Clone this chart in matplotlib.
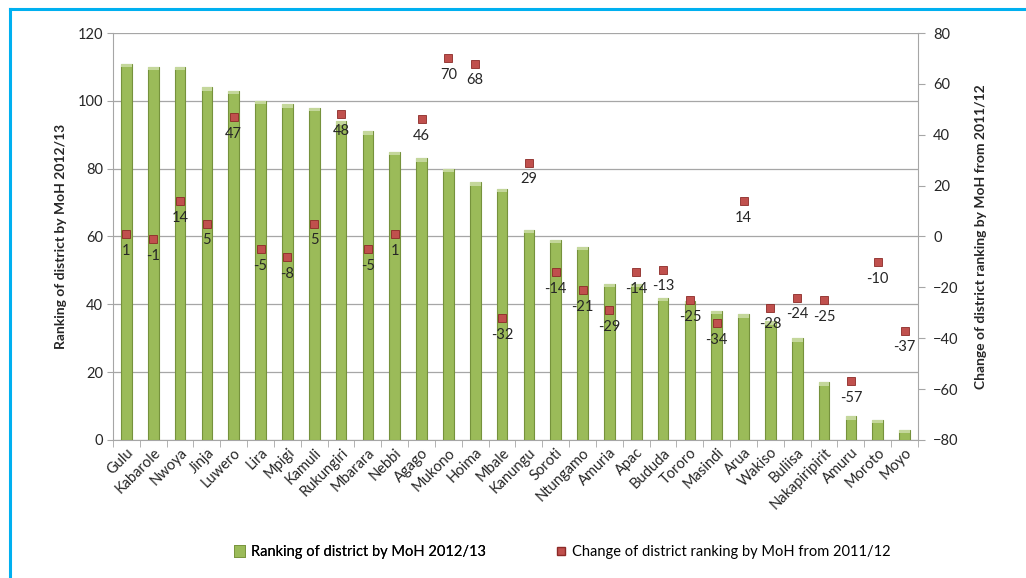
import matplotlib.pyplot as plt
import matplotlib.patches as mpatches
from matplotlib.lines import Line2D
import numpy as np

plt.rcParams['font.family'] = ['Lato', 'DejaVu Sans']

# ── data ────────────────────────────────────────────────────────────────────
districts = ['Gulu', 'Kabarole', 'Nwoya', 'Jinja', 'Luwero', 'Lira', 'Mpigi',
             'Kamuli', 'Rukungiri', 'Mbarara', 'Nebbi', 'Agago', 'Mukono',
             'Hoima', 'Mbale', 'Kanungu', 'Soroti', 'Ntungamo', 'Amuria',
             'Apac', 'Bududa', 'Tororo', 'Masindi', 'Arua', 'Wakiso',
             'Buliisa', 'Nakapiripirit', 'Amuru', 'Moroto', 'Moyo']
ranking_2012 = [111, 110, 110, 104, 103, 100, 99, 98, 94, 91, 85, 83, 80, 76,
                74, 62, 59, 57, 46, 46, 42, 41, 38, 37, 35, 30, 17, 7, 6, 3]
change_2011 = [1, -1, 14, 5, 47, -5, -8, 5, 48, -5, 1, 46, 70, 68, -32, 29,
               -14, -21, -29, -14, -13, -25, -34, 14, -28, -24, -25, -57,
               -10, -37]
left_ticks = [0, 20, 40, 60, 80, 100, 120]
right_ticks = [-80, -60, -40, -20, 0, 20, 40, 60, 80]

BAR = '#9BBB59'
BAR_EDGE = '#76923C'
RED = '#C0504D'
RED_EDGE = '#8C2A27'
GRID = '#A6A6A6'
TXT = '#262626'
BLUE = '#00B0F0'

fig = plt.figure(figsize=(10.26, 5.78), dpi=100)
ax = fig.add_axes([0.1101, 0.2388, 0.7846, 0.7041])
x = np.arange(len(districts))

ax.bar(x, ranking_2012, width=0.4, color=BAR, edgecolor=BAR_EDGE,
       linewidth=0.8, zorder=3)
# lighter caps to mimic the bevelled look
ax.bar(x, [1.0] * len(x), bottom=[v - 1.0 for v in ranking_2012], width=0.4,
       color='#C4D79B', linewidth=0, zorder=4)

ax.set_xlim(-0.5, len(x) - 0.5)
ax.set_ylim(0, 120)
ax.set_yticks(left_ticks)
ax.grid(axis='y', color=GRID, linewidth=0.9, zorder=0)
ax.set_axisbelow(True)
ax.tick_params(axis='y', length=4, color=GRID, labelsize=10.5, labelcolor=TXT,
               pad=3)
ax.set_xticks(x)
ax.set_xticklabels(districts, rotation=45, ha='right', rotation_mode='anchor',
                   fontsize=10.5, color=TXT)
ax.tick_params(axis='x', length=0, pad=4)
ax.set_xticks(np.arange(-0.5, len(x)), minor=True)
ax.tick_params(axis='x', which='minor', length=5, color=GRID)
for s in ['top', 'right']:
    ax.spines[s].set_visible(False)
ax.spines['left'].set_color(GRID)
ax.spines['bottom'].set_color(GRID)
ax.set_ylabel('Ranking of district by MoH 2012/13', fontsize=10,
              fontweight='bold', color=TXT, labelpad=8)

ax2 = ax.twinx()
ax2.set_ylim(-80, 80)
ax2.set_yticks(right_ticks)
ax2.plot(x, change_2011, linestyle='none', marker='s', markersize=6,
         markerfacecolor=RED, markeredgecolor=RED_EDGE, markeredgewidth=0.6,
         zorder=5)
for xi, v in zip(x, change_2011):
    ax2.annotate(str(v), (xi, v), xytext=(0, -7), textcoords='offset points',
                 ha='center', va='top', fontsize=10.5, color=TXT)
for s in ['top', 'left', 'bottom']:
    ax2.spines[s].set_visible(False)
ax2.spines['right'].set_color(GRID)
ax2.tick_params(axis='y', length=5, color=GRID, labelsize=10.5, labelcolor=TXT,
                pad=6)
ax2.set_ylabel('Change of district ranking by MoH from 2011/12', fontsize=10,
               fontweight='bold', color=TXT, labelpad=12)

bar_handle = mpatches.Patch(facecolor=BAR, edgecolor=BAR_EDGE, linewidth=0.6,
                            label='Ranking of district by MoH 2012/13')
dot_handle = Line2D([], [], linestyle='none', marker='s', markersize=6,
                    markerfacecolor=RED, markeredgecolor=RED_EDGE,
                    label='Change of district ranking by MoH from 2011/12')
leg1 = fig.legend(handles=[bar_handle], loc='center left',
                  bbox_to_anchor=(0.215, 0.045), frameon=False, fontsize=10.5,
                  handlelength=0.8, handleheight=0.8, handletextpad=0.4)
fig.add_artist(leg1)
fig.legend(handles=[dot_handle], loc='center left',
           bbox_to_anchor=(0.528, 0.045), frameon=False, fontsize=10.5,
           handlelength=0.8, handleheight=0.8, handletextpad=0.4)

# blue frame lines (top and left)
fig.add_artist(Line2D([0.0097, 1.0], [0.984, 0.984], color=BLUE, linewidth=2.2,
                      transform=fig.transFigure))
fig.add_artist(Line2D([0.0097, 0.0097], [0.0, 0.984], color=BLUE,
                      linewidth=2.2, transform=fig.transFigure))

fig.savefig('out.png', dpi=100, facecolor='white')
